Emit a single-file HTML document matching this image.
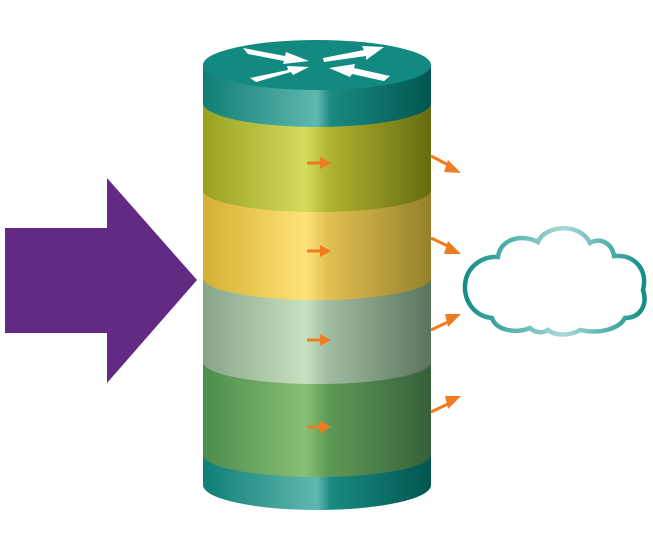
<!DOCTYPE html>
<html><head><style>body{margin:0;background:#fff}svg{display:block}</style></head><body>
<svg width="653" height="556" viewBox="0 0 653 556" xmlns="http://www.w3.org/2000/svg">
<defs>
<linearGradient id="teal" x1="0" x2="1"><stop offset="0" stop-color="#0f7e76"/><stop offset="0.5" stop-color="#5fb8b0"/><stop offset="0.56" stop-color="#1a8a82"/><stop offset="1" stop-color="#005650"/></linearGradient>
<linearGradient id="olive" x1="0" x2="1"><stop offset="0" stop-color="#98a020"/><stop offset="0.45" stop-color="#d4dc60"/><stop offset="0.55" stop-color="#b0b430"/><stop offset="1" stop-color="#646c10"/></linearGradient>
<linearGradient id="yel" x1="0" x2="1"><stop offset="0" stop-color="#d4b030"/><stop offset="0.45" stop-color="#ffe27a"/><stop offset="0.55" stop-color="#e0c050"/><stop offset="1" stop-color="#94802c"/></linearGradient>
<linearGradient id="gray" x1="0" x2="1"><stop offset="0" stop-color="#88a488"/><stop offset="0.45" stop-color="#c8e2c0"/><stop offset="0.55" stop-color="#a0bca0"/><stop offset="1" stop-color="#5a745e"/></linearGradient>
<linearGradient id="grn" x1="0" x2="1"><stop offset="0" stop-color="#4c8c4c"/><stop offset="0.45" stop-color="#88c074"/><stop offset="0.55" stop-color="#5e9a56"/><stop offset="1" stop-color="#36603a"/></linearGradient>
<linearGradient id="cl" x1="0" x2="1"><stop offset="0" stop-color="#118e88"/><stop offset="0.55" stop-color="#a8dad6"/><stop offset="1" stop-color="#118e88"/></linearGradient>
</defs>
<polygon points="5,228 107,228 107,178 197,280 107,383 107,333 5,333" fill="#632a84"/>
<path d="M203,440 L203,485 A114,25 0 0 0 431,485 L431,440 Z" fill="url(#teal)"/>
<path d="M203,350 L203,455 A114,22 0 0 0 431,455 L431,350 Z" fill="url(#grn)"/>
<path d="M203,270 L203,362 A114,22 0 0 0 431,362 L431,270 Z" fill="url(#gray)"/>
<path d="M203,180 L203,278 A114,22 0 0 0 431,278 L431,180 Z" fill="url(#yel)"/>
<path d="M203,100 L203,190 A114,22 0 0 0 431,190 L431,100 Z" fill="url(#olive)"/>
<path d="M203,65 L203,103 A114,24 0 0 0 431,103 L431,65 Z" fill="url(#teal)"/>
<ellipse cx="317" cy="65" rx="114" ry="25" fill="#138a80"/>
<g fill="#fff">
<polygon points="243,48 285,56 286,52 309,61 283,64 284,61 248,54"/>
<polygon points="384,47 362,46 364,50 323,58 324,62 366,56 366,60"/>
<polygon points="250,78 288,70 287,66 309,67 293,75 291,72 256,82"/>
<polygon points="390,76 354,68 355,64 329,68 350,77 352,74 384,81"/>
</g>
<g fill="#f07c20" stroke="#f07c20">
<g stroke-width="3"><line x1="307" y1="163" x2="322" y2="163"/><line x1="307" y1="251" x2="322" y2="251"/><line x1="307" y1="340" x2="322" y2="340"/><line x1="307" y1="427" x2="322" y2="427"/></g>
<polygon points="320,157 331,163 320,169" stroke="none"/><polygon points="320,245 331,251 320,257" stroke="none"/><polygon points="320,334 331,340 320,346" stroke="none"/><polygon points="320,421 331,427 320,433" stroke="none"/>
<g stroke-width="3"><line x1="431" y1="156" x2="452" y2="167"/><line x1="431" y1="238" x2="452" y2="248"/><line x1="431" y1="330" x2="452" y2="320"/><line x1="431" y1="412" x2="452" y2="402"/></g>
<polygon points="448,160 461,173 444,172" stroke="none"/><polygon points="448,241 461,254 444,254" stroke="none"/><polygon points="445,314 461,314 448,327" stroke="none"/><polygon points="445,396 461,396 448,409" stroke="none"/>
</g>
<path d="M498,257 C500,240 520,233 538,242 C545,225 580,222 590,243 C600,237 612,243 614,256 C635,254 648,270 643,290 C648,305 640,318 625,318 C618,330 598,334 580,330 C570,336 555,336 548,330 C542,334 534,332 530,328 C515,334 496,330 492,318 C468,316 458,288 470,270 C476,262 486,256 498,257 Z" fill="#fff" stroke="url(#cl)" stroke-width="4.5"/>
</svg>
</body></html>
